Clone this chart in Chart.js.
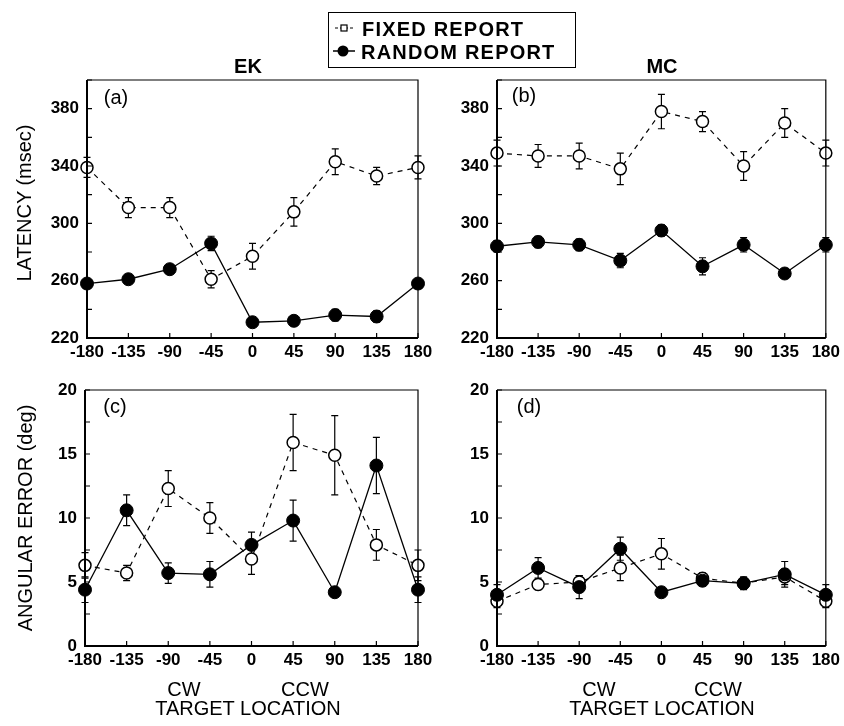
<!DOCTYPE html>
<html>
<head>
<meta charset="utf-8">
<script src="https://cdn.jsdelivr.net/npm/chart.js@4.4.0/dist/chart.umd.min.js"></script>
<style>
  html, body { margin: 0; padding: 0; background: #fff; }
  #page { position: relative; width: 844px; height: 726px; overflow: hidden; font-family: 'Liberation Sans', Arial, sans-serif; color: #000; }
  #page canvas { position: absolute; left: 0; top: 0; }
  .txt { position: absolute; white-space: nowrap; transform: translate(-50%, -50%); line-height: 1; }
  .rot { transform: translate(-50%, -50%) rotate(-90deg); }
  #legend { position: absolute; left: 328px; top: 12px; width: 246px; height: 54px; border: 1.5px solid #000; }
  .lrow { position: absolute; left: 0; font-size: 20px; font-weight: bold; letter-spacing: 1.2px; line-height: 1; }
  .lmark { position: absolute; }
</style>
</head>
<body>
<div id="page">
  <canvas id="pa" width="844" height="726"></canvas>
  <canvas id="pb" width="844" height="726"></canvas>
  <canvas id="pc" width="844" height="726"></canvas>
  <canvas id="pd" width="844" height="726"></canvas>

  <div id="legend">
    <svg class="lmark" style="left:4px;top:8px" width="22" height="14">
      <line x1="2" y1="7" x2="20" y2="7" stroke="#000" stroke-width="1.2" stroke-dasharray="3,2"/>
      <rect x="8" y="4" width="6" height="6" fill="#fff" stroke="#000" stroke-width="1.2"/>
    </svg>
    <div class="lrow" style="left:33px;top:6px">FIXED REPORT</div>
    <svg class="lmark" style="left:3px;top:30px" width="24" height="16">
      <line x1="1" y1="8" x2="23" y2="8" stroke="#000" stroke-width="1.5"/>
      <circle cx="11" cy="8" r="5.5" fill="#000"/>
    </svg>
    <div class="lrow" style="left:32px;top:29px">RANDOM REPORT</div>
  </div>

  <div class="txt" style="left:248px;top:66px;font-size:20px;font-weight:bold">EK</div>
  <div class="txt" style="left:662px;top:66px;font-size:20px;font-weight:bold">MC</div>

  <div class="txt" style="left:116px;top:97px;font-size:20px">(a)</div>
  <div class="txt" style="left:524px;top:95px;font-size:20px">(b)</div>
  <div class="txt" style="left:115px;top:406px;font-size:20px">(c)</div>
  <div class="txt" style="left:529px;top:406px;font-size:20px">(d)</div>

  <div class="txt rot" style="left:24px;top:203px;font-size:20px">LATENCY (msec)</div>
  <div class="txt rot" style="left:25px;top:518px;font-size:20px">ANGULAR ERROR (deg)</div>

  <div class="txt" style="left:184px;top:689px;font-size:20px">CW</div>
  <div class="txt" style="left:305px;top:689px;font-size:20px">CCW</div>
  <div class="txt" style="left:248px;top:708px;font-size:20px">TARGET LOCATION</div>
  <div class="txt" style="left:599px;top:689px;font-size:20px">CW</div>
  <div class="txt" style="left:718px;top:689px;font-size:20px">CCW</div>
  <div class="txt" style="left:662px;top:708px;font-size:20px">TARGET LOCATION</div>
</div>

<script>
// target location (deg)
const angles = [-180, -135, -90, -45, 0, 45, 90, 135, 180];

// (a) EK latency
const ekLatFixed = [339, 311, 311, 261, 277, 308, 343, 333, 339];
const ekLatFixedErr = [7, 7, 7, 6, 9, 10, 9, 6, 8];
const ekLatRandom = [258, 261, 268, 286, 231, 232, 236, 235, 258];
const ekLatRandomErr = [2, 3, 2, 5, 3, 3, 4, 4, 3];

// (b) MC latency
const mcLatFixed = [349, 347, 347, 338, 378, 371, 340, 370, 349];
const mcLatFixedErr = [9, 8, 9, 11, 12, 7, 10, 10, 9];
const mcLatRandom = [284, 287, 285, 274, 295, 270, 285, 265, 285];
const mcLatRandomErr = [4, 4, 4, 5, 4, 6, 5, 3, 5];

// (c) EK angular error
const ekAngFixed = [6.3, 5.7, 12.3, 10.0, 6.8, 15.9, 14.9, 7.9, 6.3];
const ekAngFixedErr = [1.0, 0.6, 1.4, 1.2, 1.2, 2.2, 3.1, 1.2, 1.2];
const ekAngRandom = [4.4, 10.6, 5.7, 5.6, 7.9, 9.8, 4.2, 14.1, 4.4];
const ekAngRandomErr = [1.0, 1.2, 0.8, 1.0, 1.0, 1.6, 0.3, 2.2, 1.0];

// (d) MC angular error
const mcAngFixed = [3.5, 4.8, 5.0, 6.1, 7.2, 5.3, 4.9, 5.4, 3.5];
const mcAngFixedErr = [0.5, 0.4, 0.5, 1.0, 1.2, 0.4, 0.4, 0.6, 0.5];
const mcAngRandom = [4.0, 6.1, 4.6, 7.6, 4.2, 5.1, 4.9, 5.6, 4.0];
const mcAngRandomErr = [0.8, 0.8, 0.9, 0.9, 0.2, 0.4, 0.5, 1.0, 0.8];

Chart.defaults.font.family = "'Liberation Sans', Arial, sans-serif";
Chart.defaults.color = "#000";

const Y_W = 60; // fixed width of the y axis
const X_H = 30; // fixed height of the x axis

// frame, inward ticks and error bars
const framePlugin = {
    id: "frame",
    beforeDatasetsDraw(chart) {
        const ctx = chart.ctx;
        const xs = chart.scales.x, ys = chart.scales.y;
        ctx.save();
        ctx.strokeStyle = "#000";
        ctx.lineWidth = 1.2;
        chart.data.datasets.forEach(ds => {
            ds.errors.forEach((e, i) => {
                const px = xs.getPixelForValue(ds.data[i].x);
                const top = ys.getPixelForValue(ds.data[i].y + e);
                const bot = ys.getPixelForValue(ds.data[i].y - e);
                ctx.beginPath();
                ctx.moveTo(px, top); ctx.lineTo(px, bot);
                ctx.moveTo(px - 3.5, top); ctx.lineTo(px + 3.5, top);
                ctx.moveTo(px - 3.5, bot); ctx.lineTo(px + 3.5, bot);
                ctx.stroke();
            });
        });
        ctx.restore();
    },
    afterDraw(chart) {
        const ctx = chart.ctx;
        const a = chart.chartArea;
        const xs = chart.scales.x, ys = chart.scales.y;
        ctx.save();
        ctx.strokeStyle = "#000";
        // top and right edges
        ctx.lineWidth = 1.2;
        ctx.beginPath();
        ctx.moveTo(a.left, a.top); ctx.lineTo(a.right, a.top); ctx.lineTo(a.right, a.bottom);
        ctx.stroke();
        // left and bottom axes
        ctx.lineWidth = 2;
        ctx.beginPath();
        ctx.moveTo(a.left, a.top); ctx.lineTo(a.left, a.bottom); ctx.lineTo(a.right, a.bottom);
        ctx.stroke();
        // inward ticks
        ctx.lineWidth = 1.2;
        ctx.beginPath();
        ys.ticks.forEach(t => {
            const py = ys.getPixelForValue(t.value);
            ctx.moveTo(a.left, py); ctx.lineTo(a.left + 5, py);
        });
        xs.ticks.forEach(t => {
            const px = xs.getPixelForValue(t.value);
            ctx.moveTo(px, a.bottom); ctx.lineTo(px, a.bottom - 5);
        });
        ctx.stroke();
        ctx.restore();
    }
};

function makePanel(id, box, yMin, yMax, yStep, labelStep, fixed, fixedErr, random, randomErr) {
    const ctx = document.getElementById(id).getContext("2d");
    return new Chart(ctx, {
        type: "line",
        data: {
            datasets: [{
                label: "RANDOM REPORT",
                data: angles.map((a, i) => ({ x: a, y: random[i] })),
                errors: randomErr,
                borderColor: "#000",
                borderWidth: 1.3,
                pointRadius: 6.5,
                pointBackgroundColor: "#000",
                pointBorderColor: "#000",
                pointBorderWidth: 1,
                clip: false,
                order: 0
            }, {
                label: "FIXED REPORT",
                data: angles.map((a, i) => ({ x: a, y: fixed[i] })),
                errors: fixedErr,
                borderColor: "#000",
                borderWidth: 1.2,
                borderDash: [5, 5],
                pointRadius: 6,
                pointBackgroundColor: "#fff",
                pointBorderColor: "#000",
                pointBorderWidth: 1.5,
                clip: false,
                order: 1
            }]
        },
        options: {
            responsive: false,
            animation: false,
            events: [],
            layout: {
                padding: { left: box.l - Y_W, top: box.t, right: 844 - box.r, bottom: 726 - box.b - X_H }
            },
            plugins: { legend: { display: false }, tooltip: { enabled: false } },
            scales: {
                x: {
                    type: "linear",
                    min: -180, max: 180,
                    grid: { display: false, drawTicks: false },
                    border: { display: false },
                    ticks: { stepSize: 45, autoSkip: false, maxRotation: 0, padding: 4, font: { size: 17, weight: "bold" } },
                    afterFit(scale) { scale.height = X_H; }
                },
                y: {
                    min: yMin, max: yMax,
                    grid: { display: false, drawTicks: false },
                    border: { display: false },
                    ticks: {
                        stepSize: yStep,
                        autoSkip: false,
                        padding: 8,
                        font: { size: 17, weight: "bold" },
                        callback: v => ((v - yMin) % labelStep === 0 ? v : "")
                    },
                    afterFit(scale) { scale.width = Y_W; }
                }
            }
        },
        plugins: [framePlugin]
    });
}

makePanel("pa", { l: 87, t: 80, r: 418, b: 338 }, 220, 400, 20, 40, ekLatFixed, ekLatFixedErr, ekLatRandom, ekLatRandomErr);
makePanel("pb", { l: 497, t: 80, r: 827, b: 338 }, 220, 400, 20, 40, mcLatFixed, mcLatFixedErr, mcLatRandom, mcLatRandomErr);
makePanel("pc", { l: 85, t: 390, r: 418, b: 646 }, 0, 20, 2.5, 5, ekAngFixed, ekAngFixedErr, ekAngRandom, ekAngRandomErr);
makePanel("pd", { l: 497, t: 390, r: 827, b: 646 }, 0, 20, 2.5, 5, mcAngFixed, mcAngFixedErr, mcAngRandom, mcAngRandomErr);
</script>
</body>
</html>
